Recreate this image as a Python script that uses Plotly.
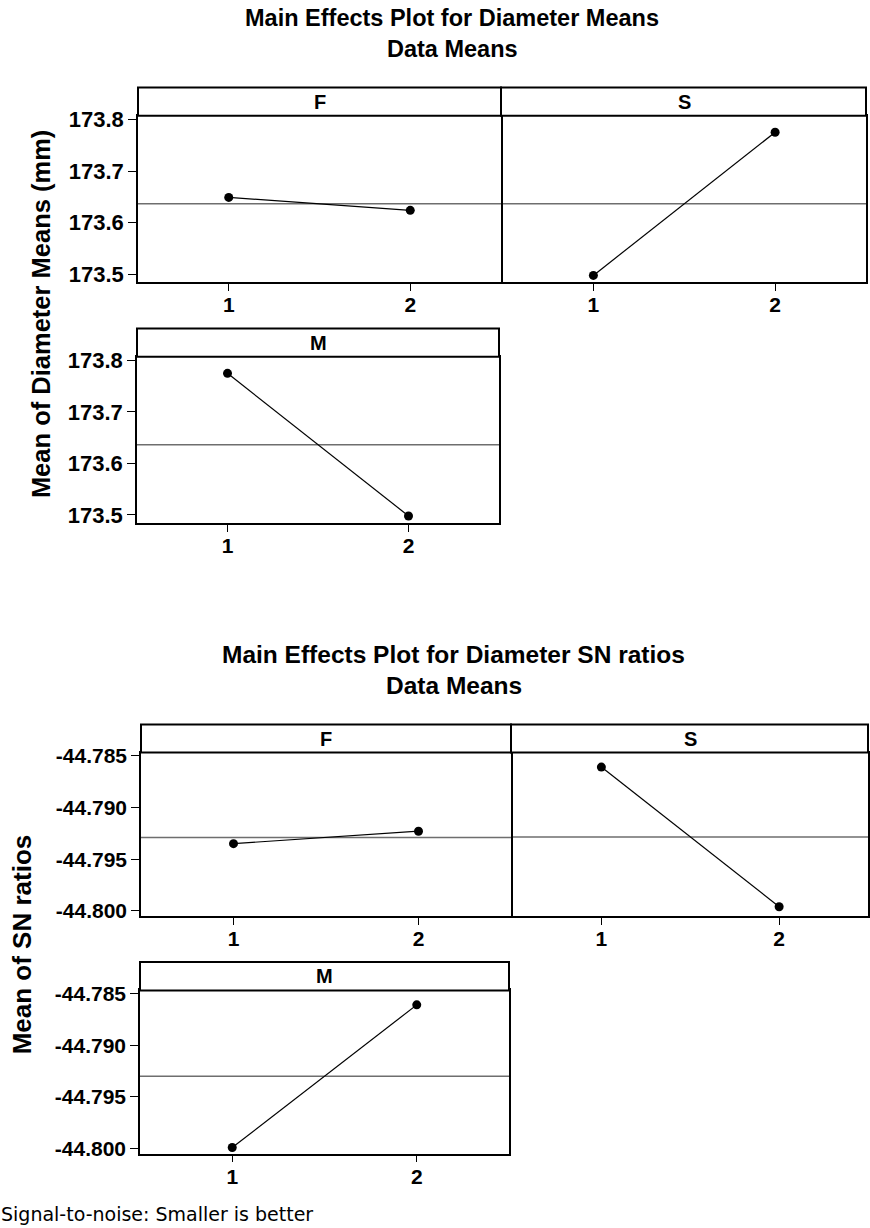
import plotly.graph_objects as go
import numpy as np

W, H = 870, 1228

# ---------------- data ----------------
levels = [1, 2]
xtick_labels = ["1", "2"]
factors = ["F", "S", "M"]

diam_F = [173.649, 173.624]
diam_S = [173.498, 173.775]
diam_M = [173.775, 173.498]

sn_F = [-44.7935, -44.7923]
sn_S = [-44.7861, -44.7996]
sn_M = [-44.7999, -44.7861]

diam_yticks = [173.5, 173.6, 173.7, 173.8]
diam_ytick_labels = ["173.5", "173.6", "173.7", "173.8"]
sn_yticks = [-44.800, -44.795, -44.790, -44.785]
sn_ytick_labels = ["-44.800", "-44.795", "-44.790", "-44.785"]

title1_a = "Main Effects Plot for Diameter Means"
title1_b = "Data Means"
title2_a = "Main Effects Plot for Diameter SN ratios"
title2_b = "Data Means"
ytitle1 = "Mean of Diameter Means (mm)"
ytitle2 = "Mean of SN ratios"
footnote = "Signal-to-noise: Smaller is better"

# ---------------- layout (pixel boxes) ----------------
ARIAL = "Liberation Sans, Arial, Helvetica, sans-serif"
diam_range = [173.4845, 173.807]
sn_range = [-44.8005, -44.7847]
LW = 1.5


def Y(y):
    # vertical pixel position compensation for the page capture
    return (y - 9.0) / 0.9874


# (label, values, x0, x1, strip_top, data_top, data_bottom, chart, left_col)
panels = [
    ("F", diam_F, 138, 501, 87.5, 115.7, 282.3, "d", True),
    ("S", diam_S, 501 + LW, 866, 87.5, 115.7, 282.3, "d", False),
    ("M", diam_M, 137, 499, 328.3, 356.7, 522.7, "d", True),
    ("F", sn_F, 141, 511, 724.3, 752.3, 915.7, "s", True),
    ("S", sn_S, 511 + LW, 868, 724.3, 752.3, 915.7, "s", False),
    ("M", sn_M, 140, 509, 961.7, 990, 1153.3, "s", True),
]

fig = go.Figure()
shapes = []
annotations = []
layout_axes = {}

for i, (lab, vals, x0, x1, st, dt, db, chart, left) in enumerate(panels):
    n = i + 1
    xa = "x" if n == 1 else f"x{n}"
    ya = "y" if n == 1 else f"y{n}"
    xkey = "xaxis" if n == 1 else f"xaxis{n}"
    ykey = "yaxis" if n == 1 else f"yaxis{n}"

    mean_val = float(np.mean(vals))
    fig.add_trace(go.Scatter(
        x=[0.5, 2.5], y=[mean_val, mean_val], mode="lines",
        line=dict(color="#6e6e6e", width=1.5),
        xaxis=xa, yaxis=ya, showlegend=False, hoverinfo="skip"))
    fig.add_trace(go.Scatter(
        x=levels, y=vals, mode="lines+markers",
        line=dict(color="black", width=1.2),
        marker=dict(color="black", size=9),
        xaxis=xa, yaxis=ya, showlegend=False, cliponaxis=False))

    if chart == "d":
        yr, tv, tt, tsize = diam_range, diam_yticks, diam_ytick_labels, 22
    else:
        yr, tv, tt, tsize = sn_range, sn_yticks, sn_ytick_labels, 21

    layout_axes[xkey] = dict(
        domain=[x0 / W, x1 / W], anchor=ya, range=[0.5, 2.5],
        tickvals=levels, ticktext=xtick_labels, ticks="outside", ticklen=7,
        tickwidth=1.3, tickcolor="black", ticklabelstandoff=-4,
        tickfont=dict(family=ARIAL, size=21, color="black", weight="bold"),
        showline=True, linecolor="black", linewidth=LW, mirror=True,
        showgrid=False, zeroline=False, fixedrange=True)
    layout_axes[ykey] = dict(
        domain=[1 - Y(db) / H, 1 - Y(dt) / H], anchor=xa, range=yr,
        tickvals=tv, ticktext=tt,
        ticks="outside" if left else "", ticklen=8, tickwidth=1.3,
        tickcolor="black", showticklabels=left,
        tickfont=dict(family=ARIAL, size=tsize, color="black", weight="bold"),
        showline=True, linecolor="black", linewidth=LW, mirror=True,
        showgrid=False, zeroline=False, fixedrange=True)

    # strip header
    shapes.append(dict(type="rect", xref="paper", yref="paper",
                       x0=(x0 - (LW if not left else 0)) / W, x1=x1 / W,
                       y0=1 - Y(dt) / H, y1=1 - Y(st) / H,
                       line=dict(color="black", width=2), fillcolor="white",
                       layer="above"))
    annotations.append(dict(text=lab, xref="paper", yref="paper",
                            x=(x0 + x1) / 2 / W, y=1 - Y((st + dt) / 2) / H,
                            xanchor="center", yanchor="middle", showarrow=False,
                            font=dict(family=ARIAL, size=20, color="black",
                                      weight="bold")))


def add_text(text, xp, yp, size, family=ARIAL, weight="bold", xanchor="center",
             angle=0):
    annotations.append(dict(text=text, xref="paper", yref="paper",
                            x=xp / W, y=1 - Y(yp) / H, xanchor=xanchor,
                            yanchor="middle", showarrow=False, textangle=angle,
                            font=dict(family=family, size=size, color="black",
                                      weight=weight)))


add_text(title1_a, 452.5, 18, 23.5)
add_text(title1_b, 452.5, 49, 23.5)
add_text(title2_a, 453.5, 654, 24.5)
add_text(title2_b, 453.5, 685, 24.5)
add_text(ytitle1, 41, 314, 25.5, angle=-90)
add_text(ytitle2, 22, 944, 26, angle=-90)
add_text(footnote, -1, 1214, 19, family="DejaVu Sans, Verdana, sans-serif",
         weight="normal", xanchor="left")

fig.update_layout(
    width=W, height=H, autosize=False,
    margin=dict(l=0, r=0, t=0, b=0, pad=0),
    paper_bgcolor="white", plot_bgcolor="white",
    shapes=shapes, annotations=annotations, showlegend=False,
    **layout_axes)

fig.write_html("out.html", config={"displayModeBar": False},
               post_script="document.body.style.margin='0';")
